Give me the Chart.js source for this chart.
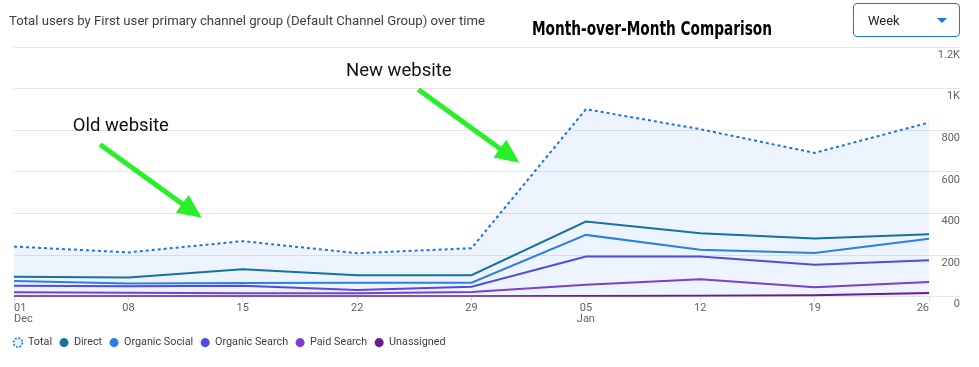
<!DOCTYPE html>
<html><head><meta charset="utf-8">
<script src="https://cdn.jsdelivr.net/npm/chart.js@4.4.1/dist/chart.umd.min.js"></script>
<style>
html,body{margin:0;padding:0;background:#fff;width:979px;height:367px;overflow:hidden;font-family:Roboto,"Noto Sans",sans-serif;}
#wrap{position:relative;width:979px;height:367px;}
canvas{position:absolute;left:0;top:0;}
.t1{position:absolute;left:9px;top:12px;font-size:13px;color:#3c4043;white-space:nowrap;transform-origin:0 0;line-height:17px;}
.t2{position:absolute;left:532px;top:17px;font-family:"Liberation Sans Narrow","DejaVu Sans Condensed",sans-serif;font-weight:bold;font-size:19px;color:#000;white-space:nowrap;transform-origin:0 0;line-height:22px;}
.dd{position:absolute;left:853px;top:3px;width:107px;height:34px;border:1px solid #1a73e8;border-radius:4px;box-sizing:border-box;}
.dd span{position:absolute;left:14px;top:8px;font-size:13px;color:#202124;line-height:17px;}
.dd i{position:absolute;left:83px;top:14px;width:0;height:0;border-left:5px solid transparent;border-right:5px solid transparent;border-top:5px solid #1a73e8;}
</style></head>
<body><div id="wrap">
<canvas id="c" width="979" height="367"></canvas>
<div class="t1" id="t1">Total users by First user primary channel group (Default Channel Group) over time</div>
<div class="t2" id="t2">Month-over-Month Comparison</div>
<div class="dd"><span>Week</span><i></i></div>
</div>
<script>
// ---- data ----
const weekLabels = [['01','Dec'],'08','15','22','29',['05','Jan'],'12','19','26'];
const totalUsers    = [241,213,267,209,233,901,805,691,837];
const direct        = [96,92,132,103,103,361,305,280,300];
const organicSocial = [76,63,66,67,67,297,226,210,278];
const organicSearch = [53,50,53,32,48,193,193,154,175];
const paidSearch    = [21,19,16,17,22,58,84,45,71];
const unassigned    = [2,2,2,2,2,3,4,7,18];
const yTickValues   = [0,200,400,600,800,1000,1200];
const seriesNames   = ['Total','Direct','Organic Social','Organic Search','Paid Search','Unassigned'];

// annotations in data coordinates (category index, value)
const notes = [
  {text:'Old website', at:[0.513,819], from:[0.752,731], to:[1.641,379]},
  {text:'New website', at:[2.903,1084], from:[3.535,996], to:[4.418,644]}
];

function fitWidth(id, target){
  const el=document.getElementById(id);
  const w=el.getBoundingClientRect().width;
  if(w>0) el.style.transform='scaleX('+(target/w)+')';
}
fitWidth('t1',476);
fitWidth('t2',240);

const colors = ['#1a73e8','#17729f','#2b7fe6','#4f4be6','#7a3fd0','#6d1b8e'];
const seriesData = [totalUsers,direct,organicSocial,organicSearch,paidSearch,unassigned];

const datasets = seriesData.map((d,i)=>({
  label: seriesNames[i],
  data: d,
  yAxisID: 'y',
  xAxisID: 'x',
  borderColor: colors[i],
  backgroundColor: i===0 ? 'rgba(26,115,232,0.08)' : colors[i],
  borderWidth: 2,
  borderDash: i===0 ? [3,3] : [],
  fill: i===0 ? 'origin' : false,
  pointRadius: 0,
  pointHoverRadius: 0,
  tension: 0
}));

const notePlugin = {
  id:'notes',
  afterLayout(chart){
    if(chart.legend){ chart.legend.top += 4; chart.legend.bottom += 4; }
  },
  afterDatasetsDraw(chart){
    const ctx=chart.ctx, xs=chart.scales.x, ys=chart.scales.y;
    ctx.save();
    notes.forEach(n=>{
      const x1=xs.getPixelForValue(n.from[0]), y1=ys.getPixelForValue(n.from[1]);
      const x2=xs.getPixelForValue(n.to[0]), y2=ys.getPixelForValue(n.to[1]);
      const dx=x2-x1, dy=y2-y1, L=Math.hypot(dx,dy), ux=dx/L, uy=dy/L;
      const hl=24, hw=11;
      const bx=x2-ux*hl, by=y2-uy*hl;
      ctx.strokeStyle='#28f028'; ctx.fillStyle='#28f028';
      ctx.lineWidth=5; ctx.lineCap='butt';
      ctx.beginPath(); ctx.moveTo(x1,y1); ctx.lineTo(bx+ux*2,by+uy*2); ctx.stroke();
      ctx.beginPath(); ctx.moveTo(x2,y2); ctx.lineTo(bx-uy*hw,by+ux*hw); ctx.lineTo(bx+uy*hw,by-ux*hw); ctx.closePath(); ctx.fill();
      ctx.fillStyle='#111'; ctx.font='18.5px Roboto'; ctx.textAlign='left'; ctx.textBaseline='middle';
      ctx.fillText(n.text, xs.getPixelForValue(n.at[0]), ys.getPixelForValue(n.at[1]));
    });
    ctx.restore();
  }
};

new Chart(document.getElementById('c'),{
  type:'line',
  data:{labels:weekLabels, datasets},
  plugins:[notePlugin],
  options:{
    responsive:false, devicePixelRatio:1, animation:false,
    layout:{padding:{left:6,right:19,top:47,bottom:13}},
    interaction:{mode:'index',intersect:false},
    plugins:{
      filler:{drawTime:'beforeDatasetsDraw'},
      tooltip:{enabled:false},
      legend:{position:'bottom',align:'start',
        labels:{font:{family:'Roboto',size:10.8},color:'#3c4043',usePointStyle:true,pointStyle:'circle',boxWidth:9,boxHeight:6.4,padding:7.5,
          generateLabels(chart){
            const items=Chart.defaults.plugins.legend.labels.generateLabels(chart);
            items.forEach((it,i)=>{
              if(i===0){it.fillStyle='#e8f0fe';it.strokeStyle=colors[0];it.lineWidth=1.5;it.lineDash=[2,1.5];}
              else{it.fillStyle=colors[i];it.strokeStyle=colors[i];it.lineWidth=0;it.lineDash=[];}
              it.pointStyle='circle';
            });
            return items;
          }}}
    },
    scales:{
      x:{
        grid:{display:true,drawOnChartArea:false,drawTicks:true,tickLength:5,color:'#dadce0'},
        border:{display:false},
        ticks:{align:'inner',maxRotation:0,autoSkip:false,padding:1,color:'#5f6368',font:{family:'Roboto',size:11,lineHeight:1}}
      },
      y:{
        position:'right',min:0,max:1200,
        afterBuildTicks(s){s.ticks=yTickValues.map(v=>({value:v}));},
        afterFit(s){s.width=31;},
        grid:{color:'#e6e6e6',tickLength:31,drawTicks:true},
        border:{display:false},
        ticks:{crossAlign:'far',padding:0,labelOffset:8,color:'#5f6368',font:{family:'Roboto',size:11},
          callback:v=> v>=1000 ? (v/1000)+'K' : String(v)}
      },
      yL:{position:'left',display:true,grid:{display:false},border:{display:false},ticks:{display:false},afterFit(s){s.width=8;}}
    }
  }
});
</script>
</body></html>
